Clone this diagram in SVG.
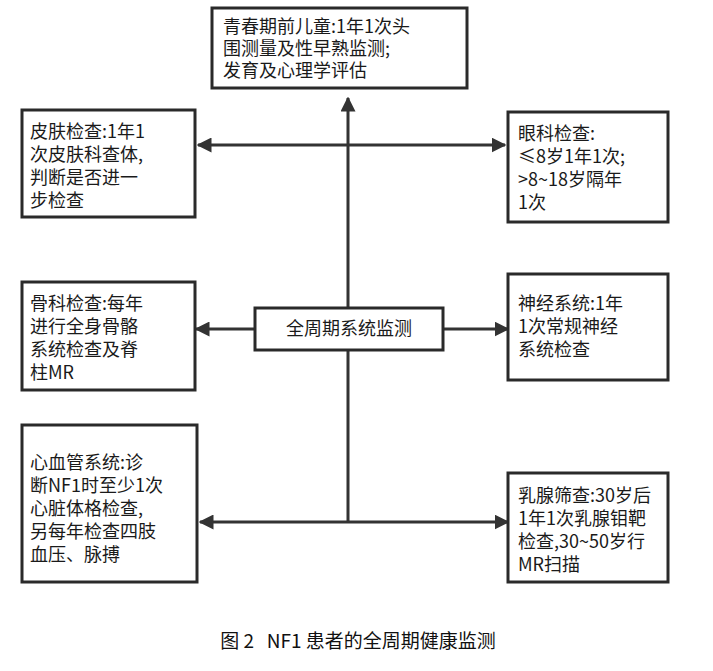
<svg xmlns="http://www.w3.org/2000/svg" width="713" height="671" viewBox="0 0 713 671">
<style>
.b{fill:#fff;stroke:#2a2a2a;stroke-width:3}
.t{font-family:"Noto Sans CJK SC","Noto Serif CJK SC",serif;font-size:18px;fill:#1a1a1a}
.l{stroke:#333;stroke-width:3;fill:none}
</style>
<defs><marker id="a" viewBox="0 0 10 10" refX="9" refY="5" markerWidth="5" markerHeight="5" orient="auto"><path d="M0,0L10,5L0,10z" fill="#333"/></marker></defs>
<rect width="713" height="671" fill="#fff"/>
<g id="connectors">
<line class="l" x1="348" y1="522" x2="348" y2="98" marker-end="url(#a)"/>
<line class="l" x1="348" y1="145" x2="198" y2="145" marker-end="url(#a)"/>
<line class="l" x1="348" y1="145" x2="505" y2="145" marker-end="url(#a)"/>
<line class="l" x1="255" y1="329" x2="196" y2="329" marker-end="url(#a)"/>
<line class="l" x1="443" y1="329" x2="508" y2="329" marker-end="url(#a)"/>
<line class="l" x1="348" y1="522" x2="200" y2="522" marker-end="url(#a)"/>
<line class="l" x1="348" y1="522" x2="508" y2="522" marker-end="url(#a)"/>
</g>
<g id="top"><rect class="b" x="212" y="8" width="255" height="80"/>
<text class="t" x="223" y="33">青春期前儿童:1年1次头</text><text class="t" x="223" y="55">围测量及性早熟监测;</text><text class="t" x="223" y="77">发育及心理学评估</text></g>
<g id="skin"><rect class="b" x="22" y="110" width="173" height="107"/>
<text class="t" x="30" y="138">皮肤检查:1年1</text><text class="t" x="30" y="161">次皮肤科查体,</text><text class="t" x="30" y="184">判断是否进一</text><text class="t" x="30" y="207">步检查</text></g>
<g id="eye"><rect class="b" x="508" y="112" width="160" height="110"/>
<text class="t" x="518" y="140">眼科检查:</text><text class="t" x="518" y="163">≤8岁1年1次;</text><text class="t" x="518" y="186">&gt;8~18岁隔年</text><text class="t" x="518" y="209">1次</text></g>
<g id="bone"><rect class="b" x="22" y="282" width="173" height="108"/>
<text class="t" x="30" y="310">骨科检查:每年</text><text class="t" x="30" y="333">进行全身骨骼</text><text class="t" x="30" y="356">系统检查及脊</text><text class="t" x="30" y="379">柱MR</text></g>
<g id="center"><rect class="b" x="255" y="308" width="188" height="42"/>
<text class="t" x="349" y="335" text-anchor="middle">全周期系统监测</text></g>
<g id="nerve"><rect class="b" x="508" y="274" width="160" height="106"/>
<text class="t" x="518" y="310">神经系统:1年</text><text class="t" x="518" y="333">1次常规神经</text><text class="t" x="518" y="356">系统检查</text></g>
<g id="heart"><rect class="b" x="22" y="425" width="175" height="157"/>
<text class="t" x="30" y="469">心血管系统:诊</text><text class="t" x="30" y="492">断NF1时至少1次</text><text class="t" x="30" y="515">心脏体格检查,</text><text class="t" x="30" y="538">另每年检查四肢</text><text class="t" x="30" y="561">血压、脉搏</text></g>
<g id="breast"><rect class="b" x="508" y="473" width="160" height="109"/>
<text class="t" x="518" y="502">乳腺筛查:30岁后</text><text class="t" x="518" y="525">1年1次乳腺钼靶</text><text class="t" x="518" y="548">检查,30~50岁行</text><text class="t" x="518" y="571">MR扫描</text></g>
<text x="358" y="648" text-anchor="middle" xml:space="preserve" style="font-family:'Noto Sans CJK SC',serif;font-size:19px;fill:#111">图 2   NF1 患者的全周期健康监测</text>
</svg>
